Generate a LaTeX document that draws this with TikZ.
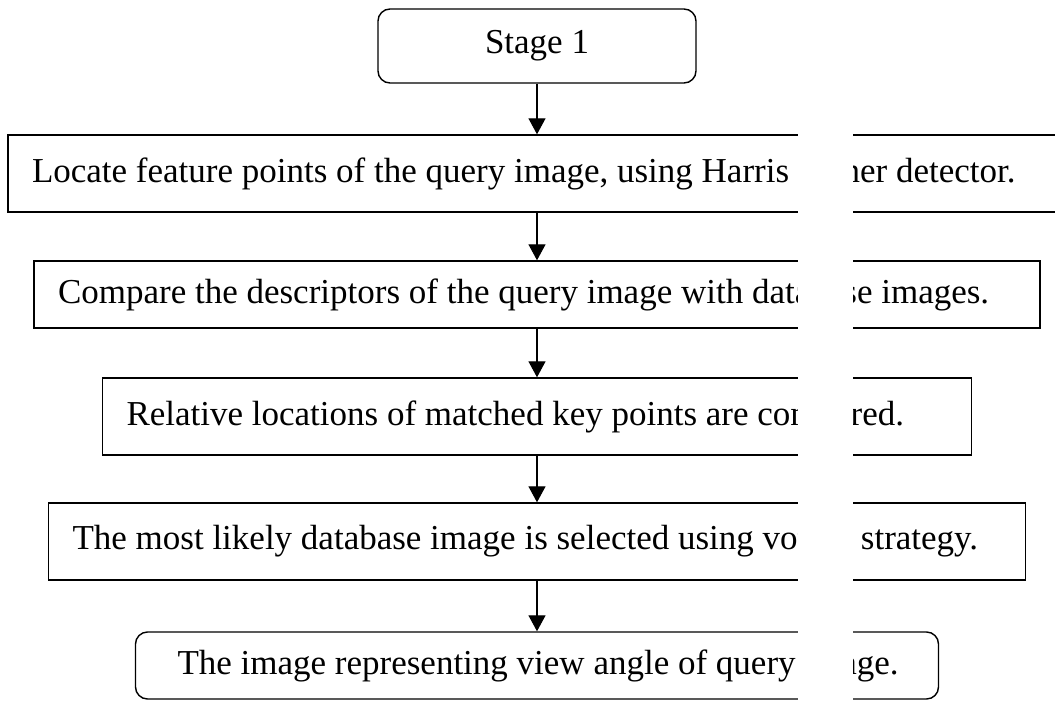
\documentclass[tikz,border=0pt]{standalone}
\usepackage{fontspec}
\setmainfont{Liberation Serif}
\usetikzlibrary{arrows.meta}
\begin{document}
\begin{tikzpicture}[x=1pt,y=-1pt,
  stepbox/.style={draw=black, line width=1.4pt, rectangle, inner xsep=24pt, inner ysep=0pt,
    font=\fontsize{35}{42}\selectfont, anchor=center},
  roundbox/.style={stepbox, rounded corners=12pt},
  flow/.style={draw=black, line width=1.3pt, -{Triangle[width=17pt,length=16pt]}}]
\useasboundingbox (0,0) rectangle (1055,701);
\fill[white] (0,0) rectangle (1055,701);

\node[roundbox, minimum width=318pt, minimum height=74pt] (s1) at (537,46) {Stage 1};
\node[stepbox, minimum width=1058pt, minimum height=77pt] (b2) at (537,173.5)
  {\makebox[1010pt][l]{Locate feature points of the query image, using Harris corner detector.}};
\node[stepbox, minimum width=1006pt, minimum height=67pt] (b3) at (537,294.5)
  {\makebox[958pt][l]{Compare the descriptors of the query image with database images.}};
\node[stepbox, minimum width=869pt, minimum height=77pt] (b4) at (537,416.5)
  {\makebox[821pt][l]{Relative locations of matched key points are compared.}};
\node[stepbox, minimum width=977pt, minimum height=77pt] (b5) at (537,541.5)
  {\makebox[929pt][l]{The most likely database image is selected using voting strategy.}};
\node[roundbox, inner xsep=42pt, minimum width=803pt, minimum height=67pt] (b6) at (537,665.5)
  {\makebox[719pt][l]{The image representing view angle of query image.}};

\draw[flow] (s1.south) -- (b2.north);
\draw[flow] (b2.south) -- (b3.north);
\draw[flow] (b3.south) -- (b4.north);
\draw[flow] (b4.south) -- (b5.north);
\draw[flow] (b5.south) -- (b6.north);

% white band where the scanned original is blank
\fill[white] (798,125) rectangle (853,701);
\end{tikzpicture}
\end{document}
